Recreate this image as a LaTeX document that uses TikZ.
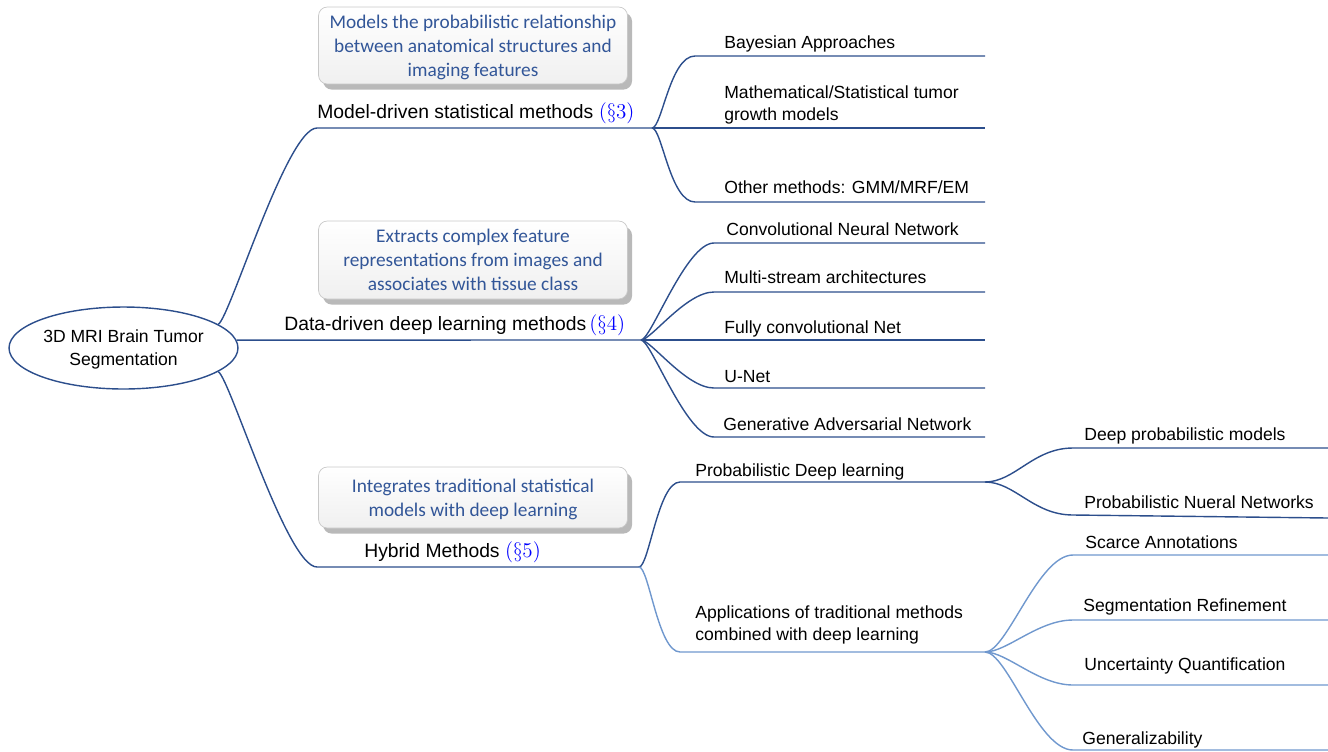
\documentclass[tikz,border=0pt]{standalone}
\usepackage[no-math]{fontspec}
\setmainfont{Liberation Sans}
\newfontfamily\notefont{Carlito}
\usetikzlibrary{shapes.geometric,shadows}
\definecolor{mapblue}{RGB}{44,78,140}
\definecolor{maplight}{RGB}{112,152,206}
\definecolor{notetext}{RGB}{50,86,152}
\definecolor{noteline}{RGB}{200,200,200}
\newcommand{\secref}[1]{\textcolor{blue}{\fontsize{12.5}{14}\selectfont$(\S#1)$}}
\begin{document}
\begin{tikzpicture}[x=0.02cm,y=-0.02cm,
branch/.style={draw=mapblue,line width=0.8pt},
faint/.style={draw=maplight,line width=0.8pt},
topic/.style={ellipse,draw=mapblue,line width=0.8pt,minimum width=4.58cm,minimum height=1.64cm,inner sep=0,text depth=0pt,align=center,font=\fontsize{10}{13}\selectfont},
note/.style={draw=noteline,rounded corners=5pt,top color=white,bottom color=gray!12,drop shadow={shadow xshift=2.6pt,shadow yshift=-3.2pt,fill=gray!55,opacity=1},minimum width=6.18cm,text depth=0pt,align=center,text=notetext,font=\notefont\fontsize{11}{13.6}\selectfont},
main/.style={anchor=base west,inner sep=0,font=\fontsize{11}{13}\selectfont},
leaf/.style={anchor=base west,inner sep=0,align=left,font=\fontsize{10}{12}\selectfont},
]
\useasboundingbox (0,0) rectangle (1328,751);

\node[topic] (root) at (123.5,348) {3D MRI Brain Tumor\\Segmentation};

\node[note,minimum height=1.54cm] (n3) at (473,45.5) {Models the probabilistic relationship\\between anatomical structures and\\imaging features};
\node[note,minimum height=1.56cm] (n4) at (473,260) {Extracts complex feature\\representations from images and\\associates with tissue class};
\node[note,minimum height=1.22cm] (n5) at (473,497.5) {Integrates traditional statistical\\models with deep learning};

\coordinate (m3L) at (317,128); \coordinate (f3) at (652,128);
\coordinate (f4) at (641,340);
\coordinate (m5L) at (317,567); \coordinate (f5) at (639,567);

\node[main] (m3) at (317,118) {Model-driven statistical methods \secref{3}};
\node[main] (m4) at (284,330) {Data-driven deep learning methods\,\secref{4}};
\node[main] (m5) at (364,557) {Hybrid Methods \secref{5}};

\draw[branch] (root.14) .. controls +(12,-8) and +(-30,0) .. (m3L) -- (f3);
\draw[branch] (root.4) -- (f4);
\draw[branch] (root.-14) .. controls +(12,8) and +(-30,0) .. (m5L) -- (f5);

\coordinate (bayL) at (695,56); \coordinate (bayR) at (985,56);
\coordinate (mathR) at (985,128);
\coordinate (othL) at (695,202); \coordinate (othR) at (985,202);
\node[leaf] (bay) at (724,48) {Bayesian Approaches};
\node[leaf] (math) at (724,120) {Mathematical/Statistical tumor\\growth models};
\node[leaf] (oth) at (724,193) {Other methods: GMM/MRF/EM};
\draw[branch] (f3) .. controls +(10,0) and +(-25,0) .. (bayL) -- (bayR);
\draw[branch] (f3) -- (mathR);
\draw[branch] (f3) .. controls +(10,0) and +(-25,0) .. (othL) -- (othR);

\coordinate (cnnL) at (714,243); \coordinate (cnnR) at (985,243);
\coordinate (msaL) at (714,292); \coordinate (msaR) at (985,292);
\coordinate (fcnR) at (985,340);
\coordinate (unetL) at (714,388); \coordinate (unetR) at (985,388);
\coordinate (ganL) at (714,437); \coordinate (ganR) at (985,437);
\node[leaf] (cnn) at (726,235) {Convolutional Neural Network};
\node[leaf] (msa) at (724,283) {Multi-stream architectures};
\node[leaf] (fcn) at (724,333) {Fully convolutional Net};
\node[leaf] (unet) at (724,382) {U-Net};
\node[leaf] (gan) at (723,430) {Generative Adversarial Network};
\draw[branch] (f4) .. controls +(10,0) and +(-28,0) .. (cnnL) -- (cnnR);
\draw[branch] (f4) .. controls +(10,0) and +(-28,0) .. (msaL) -- (msaR);
\draw[branch] (f4) -- (fcnR);
\draw[branch] (f4) .. controls +(10,0) and +(-28,0) .. (unetL) -- (unetR);
\draw[branch] (f4) .. controls +(10,0) and +(-28,0) .. (ganL) -- (ganR);

\coordinate (pdlL) at (680,482); \coordinate (f51) at (985,482);
\coordinate (appL) at (680,652); \coordinate (f52) at (985,652);
\node[leaf] (pdl) at (695,476) {Probabilistic Deep learning};
\node[leaf] (app) at (695,640) {Applications of traditional methods\\combined with deep learning};
\draw[branch] (f5) .. controls +(10,0) and +(-22,0) .. (pdlL) -- (f51);
\draw[faint] (f5) .. controls +(10,0) and +(-22,0) .. (appL) -- (f52);

\coordinate (dpmL) at (1073,448); \coordinate (dpmR) at (1328,448);
\coordinate (pnnL) at (1073,515); \coordinate (pnnR) at (1328,518);
\node[leaf] (dpm) at (1084,440) {Deep probabilistic models};
\node[leaf] (pnn) at (1084,508) {Probabilistic Nueral Networks};
\draw[branch] (f51) .. controls +(30,0) and +(-40,0) .. (dpmL) -- (dpmR);
\draw[branch] (f51) .. controls +(30,0) and +(-40,0) .. (pnnL) -- (pnnR);

\coordinate (scaL) at (1073,555); \coordinate (scaR) at (1328,555);
\coordinate (segL) at (1073,620); \coordinate (segR) at (1328,620);
\coordinate (uncL) at (1073,685); \coordinate (uncR) at (1328,685);
\coordinate (genL) at (1073,750); \coordinate (genR) at (1328,750);
\node[leaf] (sca) at (1085,548) {Scarce Annotations};
\node[leaf] (seg) at (1083,611) {Segmentation Refinement};
\node[leaf] (unc) at (1084,670) {Uncertainty Quantification};
\node[leaf] (gen) at (1082,744) {Generalizability};
\draw[faint] (f52) .. controls +(22,0) and +(-35,0) .. (scaL) -- (scaR);
\draw[faint] (f52) .. controls +(22,0) and +(-35,0) .. (segL) -- (segR);
\draw[faint] (f52) .. controls +(22,0) and +(-35,0) .. (uncL) -- (uncR);
\draw[faint] (f52) .. controls +(22,0) and +(-35,0) .. (genL) -- (genR);
\end{tikzpicture}
\end{document}
